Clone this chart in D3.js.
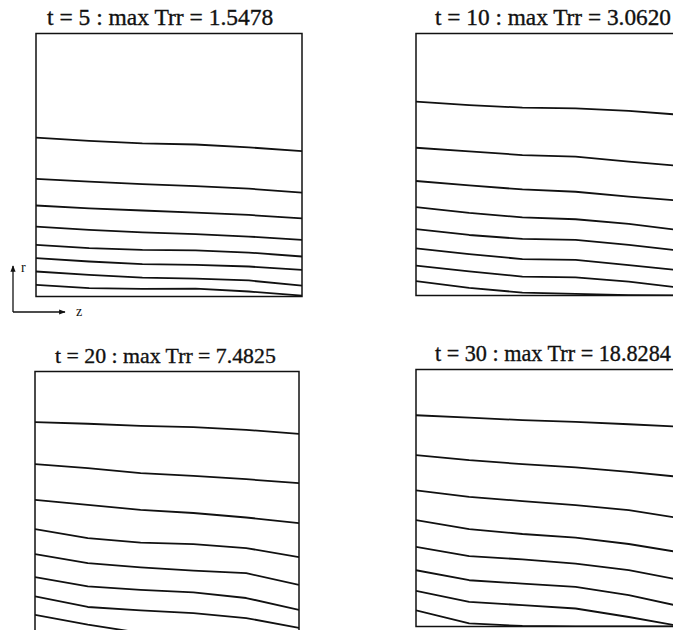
<!DOCTYPE html>
<html>
<head>
<meta charset="utf-8">
<script src="https://cdn.jsdelivr.net/npm/d3@7"></script>
<style>
  body { margin: 0; background: #fff; overflow: hidden; }
  svg { display: block; }
  .title { font-family: "Liberation Serif", "Times New Roman", serif; fill: #111; stroke: #111; stroke-width: 0.35px; }
  .axlabel { font-family: "Liberation Serif", serif; font-size: 14px; fill: #111; }
</style>
</head>
<body>
<div id="chart"></div>
<script>
// snapshot times and peak stress
const times = [5, 10, 20, 30];
const maxTrr = ["1.5478", "3.0620", "7.4825", "18.8284"];

// z stations along each contour (0 = left wall, 1 = right wall)
const zGrid = [0, 0.2, 0.4, 0.6, 0.8, 1];

// contour levels, r value (0 = bottom, 1 = top) at each z station
const contoursT5 = [
  [0.604, 0.592, 0.582, 0.578, 0.567, 0.553],
  [0.447, 0.437, 0.427, 0.420, 0.410, 0.395],
  [0.346, 0.335, 0.327, 0.319, 0.310, 0.297],
  [0.266, 0.253, 0.244, 0.237, 0.228, 0.215],
  [0.196, 0.184, 0.177, 0.175, 0.167, 0.152],
  [0.146, 0.133, 0.123, 0.120, 0.114, 0.101],
  [0.095, 0.082, 0.072, 0.068, 0.061, 0.041],
  [0.044, 0.032, 0.029, 0.030, 0.019, 0.003]
];
const contoursT10 = [
  [0.740, 0.727, 0.717, 0.714, 0.705, 0.689],
  [0.564, 0.550, 0.536, 0.530, 0.511, 0.494],
  [0.437, 0.420, 0.405, 0.396, 0.377, 0.361],
  [0.337, 0.315, 0.298, 0.291, 0.273, 0.248],
  [0.253, 0.231, 0.216, 0.212, 0.193, 0.170],
  [0.180, 0.158, 0.139, 0.136, 0.116, 0.095],
  [0.114, 0.092, 0.072, 0.069, 0.053, 0.029],
  [0.055, 0.029, 0.011, 0.006, 0.001, 0.000]
];
const contoursT20 = [
  [0.808, 0.802, 0.794, 0.789, 0.779, 0.764],
  [0.649, 0.634, 0.615, 0.605, 0.592, 0.577],
  [0.514, 0.495, 0.476, 0.464, 0.447, 0.426],
  [0.403, 0.369, 0.352, 0.346, 0.331, 0.297],
  [0.308, 0.274, 0.258, 0.246, 0.236, 0.192],
  [0.221, 0.186, 0.173, 0.163, 0.142, 0.097],
  [0.148, 0.108, 0.095, 0.085, 0.066, 0.029],
  [0.078, 0.041, 0.010, 0.000, 0.000, 0.000]
];
const contoursT30 = [
  [0.822, 0.813, 0.803, 0.796, 0.787, 0.777],
  [0.667, 0.647, 0.632, 0.619, 0.602, 0.581],
  [0.530, 0.504, 0.488, 0.472, 0.453, 0.420],
  [0.414, 0.379, 0.360, 0.346, 0.321, 0.287],
  [0.310, 0.274, 0.261, 0.245, 0.219, 0.180],
  [0.219, 0.180, 0.167, 0.154, 0.122, 0.077],
  [0.139, 0.096, 0.083, 0.070, 0.037, 0.000],
  [0.063, 0.012, 0.002, 0.000, 0.000, 0.000]
];
const contours = [contoursT5, contoursT10, contoursT20, contoursT30];

// layout of the 4 panels (right ones run past the page edge, like the scan)
const W = 673, H = 630;
const panels = [
  { x: 36,  y: 33.5,  w: 266, h: 263, tx: 47,  fs: 23.5 },
  { x: 416, y: 33.5,  w: 266, h: 262, tx: 435, fs: 23.3 },
  { x: 35,  y: 371.5, w: 264, h: 264, tx: 55,  fs: 21.8 },
  { x: 416, y: 369.5, w: 266, h: 257, tx: 435, fs: 22.2 }
];

const svg = d3.select("#chart").append("svg")
  .attr("width", W).attr("height", H);
svg.append("rect").attr("width", W).attr("height", H).attr("fill", "#fff");

const defs = svg.append("defs");
defs.append("marker")
  .attr("id", "arrow")
  .attr("viewBox", "0 0 10 10")
  .attr("refX", 9).attr("refY", 5)
  .attr("markerWidth", 7).attr("markerHeight", 5)
  .attr("orient", "auto")
  .append("path").attr("d", "M0,1 L10,5 L0,9 z").attr("fill", "#111");

panels.forEach((p, i) => {
  const x = d3.scaleLinear().domain([0, 1]).range([0, p.w]);
  const y = d3.scaleLinear().domain([0, 1]).range([p.h, 0]);

  defs.append("clipPath").attr("id", "clip" + i)
    .append("rect").attr("width", p.w).attr("height", p.h);

  const g = svg.append("g").attr("transform", `translate(${p.x},${p.y})`);

  svg.append("text")
    .attr("class", "title")
    .attr("x", p.tx)
    .attr("y", p.y - 8.5)
    .style("font-size", p.fs + "px")
    .text(`t = ${times[i]} : max Trr = ${maxTrr[i]}`);

  const line = d3.line()
    .x((d, j) => x(zGrid[j]))
    .y(d => y(d));

  g.append("g").attr("clip-path", `url(#clip${i})`)
    .selectAll("path")
    .data(contours[i])
    .join("path")
    .attr("d", line)
    .attr("fill", "none")
    .attr("stroke", "#111")
    .attr("stroke-width", 1.8)
    .attr("stroke-linejoin", "round");

  g.append("rect")
    .attr("width", p.w).attr("height", p.h)
    .attr("fill", "none")
    .attr("stroke", "#111")
    .attr("stroke-width", 1.5);
});

// r / z orientation key, lower left of the first panel
const key = svg.append("g");
key.append("path")
  .attr("d", d3.line()([[13, 312], [13, 266]]))
  .attr("stroke", "#111").attr("stroke-width", 1.3)
  .attr("marker-end", "url(#arrow)");
key.append("path")
  .attr("d", d3.line()([[13, 312], [65, 312]]))
  .attr("stroke", "#111").attr("stroke-width", 1.3)
  .attr("marker-end", "url(#arrow)");
key.append("text").attr("class", "axlabel").attr("x", 21).attr("y", 272).text("r");
key.append("text").attr("class", "axlabel").attr("x", 76).attr("y", 316).text("z");
</script>
</body>
</html>
